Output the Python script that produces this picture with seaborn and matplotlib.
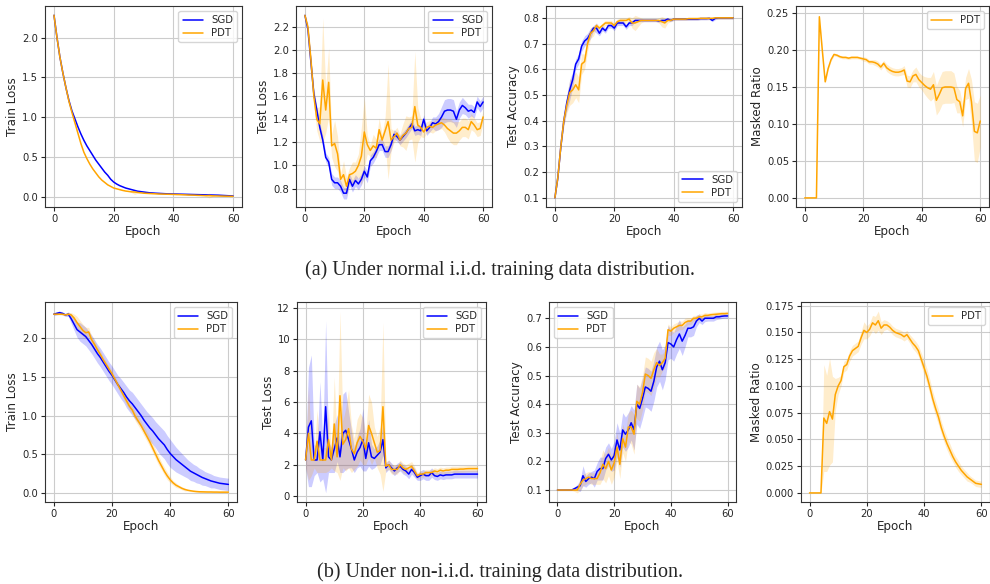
import numpy as np
import matplotlib
matplotlib.use("Agg")
import matplotlib.pyplot as plt
import seaborn as sns

epochs = list(range(61))

# ---------- (a) iid ----------
a_train_sgd = [2.28, 2.00, 1.75, 1.55, 1.37, 1.21, 1.08, 0.98, 0.88, 0.79, 0.71, 0.64, 0.58, 0.52, 0.46,
               0.41, 0.36, 0.31, 0.27, 0.22, 0.185, 0.16, 0.14, 0.125, 0.11, 0.10, 0.09, 0.08, 0.07, 0.065,
               0.06, 0.055, 0.05, 0.048, 0.045, 0.043, 0.041, 0.039, 0.037, 0.036, 0.035, 0.034, 0.033, 0.032,
               0.031, 0.03, 0.029, 0.028, 0.027, 0.026, 0.025, 0.024, 0.023, 0.022, 0.021, 0.02, 0.018, 0.016,
               0.014, 0.012, 0.01]
a_train_pdt = [2.28, 2.00, 1.75, 1.55, 1.37, 1.20, 1.06, 0.93, 0.80, 0.67, 0.56, 0.48, 0.41, 0.35, 0.30,
               0.25, 0.21, 0.18, 0.15, 0.13, 0.11, 0.10, 0.09, 0.08, 0.072, 0.067, 0.062, 0.06, 0.055, 0.05,
               0.045, 0.043, 0.041, 0.039, 0.037, 0.035, 0.034, 0.033, 0.032, 0.031, 0.03, 0.028, 0.027, 0.025,
               0.024, 0.022, 0.021, 0.02, 0.018, 0.017, 0.015, 0.014, 0.016, 0.012, 0.011, 0.01, 0.009, 0.008,
               0.007, 0.006, 0.005]
a_train_pdt_err = [0.0] * 26 + [0.01, 0.03, 0.01] + [0.0] * 22 + [0.01, 0.03, 0.01] + [0.0] * 7

a_test_sgd = [2.30, 2.18, 1.90, 1.62, 1.48, 1.33, 1.22, 1.07, 1.03, 0.88, 0.85, 0.85, 0.82, 0.76, 0.76,
              0.88, 0.82, 0.87, 0.84, 0.88, 0.95, 0.90, 1.04, 1.07, 1.12, 1.18, 1.18, 1.12, 1.12, 1.18,
              1.27, 1.25, 1.22, 1.25, 1.28, 1.32, 1.36, 1.30, 1.31, 1.30, 1.40, 1.30, 1.33, 1.37, 1.36,
              1.38, 1.42, 1.47, 1.48, 1.48, 1.47, 1.40, 1.48, 1.52, 1.50, 1.47, 1.48, 1.46, 1.55, 1.51, 1.55]
a_test_sgd_err = [0.01, 0.02, 0.03, 0.03, 0.03, 0.04, 0.04, 0.04, 0.04, 0.05, 0.05, 0.05, 0.05, 0.05, 0.05,
                  0.05, 0.05, 0.05, 0.05, 0.05, 0.05, 0.05, 0.05, 0.05, 0.05, 0.05, 0.05, 0.05, 0.05, 0.05,
                  0.04, 0.04, 0.04, 0.04, 0.04, 0.04, 0.04, 0.04, 0.04, 0.04, 0.04, 0.04, 0.04, 0.05, 0.06,
                  0.07, 0.09, 0.1, 0.1, 0.1, 0.1, 0.07, 0.07, 0.07, 0.06, 0.06, 0.05, 0.05, 0.05, 0.05, 0.05]
a_test_pdt = [2.30, 2.20, 1.92, 1.60, 1.40, 1.36, 1.74, 1.48, 1.72, 1.17, 1.19, 1.10, 0.88, 0.92, 0.82,
              0.92, 0.93, 0.95, 1.00, 1.08, 1.29, 1.18, 1.13, 1.17, 1.15, 1.31, 1.22, 1.30, 1.38, 1.22,
              1.25, 1.28, 1.22, 1.26, 1.28, 1.32, 1.33, 1.51, 1.35, 1.33, 1.29, 1.33, 1.34, 1.33, 1.35,
              1.36, 1.37, 1.35, 1.32, 1.30, 1.28, 1.28, 1.30, 1.33, 1.33, 1.31, 1.38, 1.35, 1.31, 1.32, 1.42]
a_test_pdt_err = [0.02, 0.03, 0.05, 0.08, 0.1, 0.15, 0.54, 0.2, 0.3, 0.1, 0.2, 0.15, 0.05, 0.12, 0.08,
                  0.06, 0.1, 0.08, 0.1, 0.25, 0.3, 0.08, 0.05, 0.1, 0.08, 0.1, 0.05, 0.12, 0.5, 0.1,
                  0.05, 0.05, 0.05, 0.1, 0.15, 0.1, 0.1, 0.48, 0.15, 0.08, 0.05, 0.05, 0.05, 0.05, 0.05,
                  0.05, 0.05, 0.06, 0.08, 0.1, 0.1, 0.1, 0.08, 0.08, 0.08, 0.08, 0.07, 0.06, 0.06, 0.06, 0.05]

a_acc_sgd = [0.10, 0.18, 0.30, 0.40, 0.47, 0.52, 0.56, 0.62, 0.64, 0.69, 0.71, 0.72, 0.74, 0.76, 0.76,
             0.74, 0.76, 0.75, 0.77, 0.77, 0.76, 0.78, 0.78, 0.78, 0.765, 0.78, 0.78, 0.79, 0.79, 0.79,
             0.79, 0.79, 0.79, 0.79, 0.79, 0.788, 0.79, 0.79, 0.795, 0.79, 0.795, 0.795, 0.795, 0.795, 0.795,
             0.795, 0.795, 0.795, 0.795, 0.797, 0.797, 0.797, 0.798, 0.79, 0.798, 0.8, 0.8, 0.8, 0.8, 0.8, 0.8]
a_acc_sgd_err = [0.0, 0.01, 0.01, 0.02, 0.03, 0.04, 0.03, 0.02, 0.02, 0.02, 0.02, 0.02, 0.02, 0.01, 0.02,
                 0.01, 0.01, 0.01, 0.01, 0.01, 0.01, 0.01, 0.01, 0.01, 0.01, 0.01, 0.01, 0.005, 0.005, 0.005,
                 0.005, 0.005, 0.005, 0.005, 0.005, 0.005, 0.005, 0.005, 0.005, 0.005, 0.005, 0.005, 0.005, 0.005, 0.005,
                 0.005, 0.005, 0.005, 0.005, 0.005, 0.005, 0.005, 0.005, 0.005, 0.005, 0.005, 0.005, 0.005, 0.005, 0.005, 0.005]
a_acc_pdt = [0.10, 0.18, 0.30, 0.40, 0.46, 0.51, 0.52, 0.54, 0.52, 0.62, 0.63, 0.70, 0.74, 0.75, 0.77,
             0.76, 0.77, 0.78, 0.78, 0.78, 0.77, 0.785, 0.79, 0.79, 0.79, 0.795, 0.78, 0.78, 0.785, 0.79,
             0.79, 0.79, 0.79, 0.79, 0.79, 0.79, 0.785, 0.78, 0.79, 0.79, 0.795, 0.795, 0.795, 0.795, 0.795,
             0.797, 0.797, 0.797, 0.797, 0.798, 0.798, 0.798, 0.798, 0.798, 0.8, 0.8, 0.8, 0.8, 0.8, 0.8, 0.8]
a_acc_pdt_err = [0.0, 0.01, 0.01, 0.02, 0.03, 0.05, 0.05, 0.05, 0.05, 0.04, 0.03, 0.03, 0.02, 0.02, 0.01,
                 0.01, 0.01, 0.01, 0.01, 0.01, 0.01, 0.01, 0.01, 0.01, 0.01, 0.01, 0.02, 0.03, 0.02, 0.01,
                 0.005, 0.005, 0.005, 0.005, 0.005, 0.01, 0.02, 0.02, 0.01, 0.005, 0.005, 0.005, 0.005, 0.005, 0.005,
                 0.005, 0.005, 0.005, 0.005, 0.005, 0.005, 0.005, 0.005, 0.005, 0.005, 0.005, 0.005, 0.005, 0.005, 0.005, 0.005]

a_mask_pdt = [0.0, 0.0, 0.0, 0.0, 0.0, 0.245, 0.20, 0.157, 0.175, 0.187, 0.194, 0.193, 0.191, 0.19, 0.19,
              0.189, 0.19, 0.19, 0.19, 0.189, 0.188, 0.187, 0.184, 0.184, 0.183, 0.181, 0.177, 0.182, 0.176, 0.173,
              0.171, 0.17, 0.17, 0.171, 0.173, 0.158, 0.157, 0.165, 0.167, 0.16, 0.156, 0.152, 0.149, 0.147, 0.153,
              0.132, 0.14, 0.149, 0.15, 0.15, 0.15, 0.149, 0.133, 0.13, 0.111, 0.148, 0.155, 0.13, 0.09, 0.088, 0.104]
a_mask_pdt_err = [0.0, 0.0, 0.0, 0.0, 0.0, 0.002, 0.002, 0.002, 0.002, 0.002, 0.002, 0.002, 0.002, 0.002, 0.002,
                  0.002, 0.002, 0.002, 0.002, 0.002, 0.003, 0.003, 0.003, 0.003, 0.004, 0.004, 0.004, 0.004, 0.005, 0.005,
                  0.005, 0.005, 0.005, 0.005, 0.006, 0.008, 0.008, 0.008, 0.01, 0.01, 0.01, 0.012, 0.014, 0.016, 0.018,
                  0.02, 0.022, 0.022, 0.022, 0.022, 0.022, 0.02, 0.018, 0.015, 0.015, 0.015, 0.02, 0.03, 0.04, 0.04, 0.035]

# ---------- (b) non-iid ----------
b_train_sgd = [2.31, 2.32, 2.33, 2.32, 2.30, 2.31, 2.25, 2.18, 2.11, 2.08, 2.05, 2.02, 1.97, 1.92, 1.86,
               1.80, 1.75, 1.69, 1.63, 1.57, 1.52, 1.46, 1.40, 1.35, 1.30, 1.24, 1.19, 1.15, 1.10, 1.05,
               1.00, 0.94, 0.89, 0.84, 0.80, 0.75, 0.70, 0.66, 0.62, 0.56, 0.51, 0.47, 0.43, 0.40, 0.37,
               0.34, 0.31, 0.28, 0.26, 0.24, 0.22, 0.20, 0.185, 0.17, 0.155, 0.145, 0.135, 0.125, 0.12, 0.115, 0.11]
b_train_sgd_err = [0.02, 0.02, 0.02, 0.02, 0.02, 0.03, 0.06, 0.08, 0.1, 0.12, 0.12, 0.12, 0.12, 0.12, 0.12,
                   0.12, 0.12, 0.12, 0.12, 0.12, 0.12, 0.12, 0.12, 0.13, 0.13, 0.14, 0.14, 0.15, 0.15, 0.15,
                   0.15, 0.16, 0.16, 0.17, 0.17, 0.17, 0.18, 0.18, 0.18, 0.18, 0.18, 0.17, 0.16, 0.15, 0.14,
                   0.13, 0.12, 0.12, 0.11, 0.11, 0.1, 0.1, 0.09, 0.09, 0.09, 0.08, 0.08, 0.08, 0.08, 0.08, 0.08]
b_train_pdt = [2.31, 2.31, 2.31, 2.31, 2.30, 2.31, 2.30, 2.26, 2.20, 2.15, 2.10, 2.07, 2.08, 1.98, 1.92,
               1.85, 1.79, 1.72, 1.66, 1.60, 1.54, 1.47, 1.40, 1.33, 1.26, 1.19, 1.12, 1.07, 0.99, 0.93,
               0.87, 0.80, 0.73, 0.66, 0.58, 0.50, 0.42, 0.35, 0.28, 0.22, 0.17, 0.13, 0.10, 0.08, 0.06,
               0.045, 0.035, 0.028, 0.022, 0.018, 0.015, 0.014, 0.013, 0.012, 0.012, 0.011, 0.011, 0.01, 0.01, 0.01, 0.01]
b_train_pdt_err = [0.01, 0.01, 0.01, 0.01, 0.01, 0.02, 0.03, 0.05, 0.08, 0.08, 0.08, 0.07, 0.06, 0.05, 0.05,
                   0.04, 0.04, 0.04, 0.04, 0.04, 0.04, 0.04, 0.04, 0.04, 0.05, 0.05, 0.05, 0.05, 0.06, 0.06,
                   0.06, 0.06, 0.06, 0.06, 0.06, 0.06, 0.06, 0.05, 0.05, 0.05, 0.04, 0.03, 0.03, 0.02, 0.02,
                   0.02, 0.01, 0.01, 0.01, 0.01, 0.01, 0.01, 0.01, 0.01, 0.01, 0.01, 0.01, 0.01, 0.01, 0.01, 0.01]

b_test_sgd = [2.3, 4.4, 4.8, 2.3, 2.3, 4.1, 2.3, 5.7, 2.5, 2.3, 3.0, 3.7, 2.5, 4.0, 4.2,
              3.6, 3.0, 2.3, 2.8, 3.1, 3.6, 2.4, 3.4, 2.5, 2.4, 2.6, 2.8, 3.6, 1.8, 2.0,
              1.8, 1.6, 1.8, 1.9, 1.7, 1.6, 1.4, 1.7, 1.5, 1.2, 1.3, 1.4, 1.3, 1.3, 1.5,
              1.3, 1.25, 1.35, 1.3, 1.35, 1.35, 1.35, 1.4, 1.4, 1.4, 1.4, 1.4, 1.4, 1.4, 1.4, 1.4]
b_test_sgd_err = [0.5, 3.8, 4.2, 1.0, 0.8, 3.2, 1.2, 5.5, 1.0, 0.8, 1.5, 1.5, 1.0, 2.5, 2.5,
                  1.8, 1.2, 0.8, 1.0, 1.2, 2.0, 0.8, 1.5, 0.8, 0.6, 0.6, 0.8, 1.0, 0.3, 0.3,
                  0.3, 0.3, 0.3, 0.3, 0.3, 0.3, 0.3, 0.3, 0.3, 0.2, 0.3, 0.3, 0.3, 0.3, 0.3,
                  0.25, 0.25, 0.25, 0.25, 0.25, 0.25, 0.25, 0.25, 0.25, 0.25, 0.25, 0.25, 0.25, 0.25, 0.25, 0.25]
b_test_pdt = [2.3, 4.0, 2.3, 2.3, 3.5, 2.3, 2.3, 2.3, 3.6, 2.3, 4.6, 2.5, 6.4, 3.3, 3.6,
              4.3, 3.0, 2.7, 3.4, 3.8, 3.5, 3.0, 4.5, 4.0, 3.4, 2.8, 2.9, 5.7, 1.9, 2.0,
              1.7, 1.7, 1.7, 2.0, 1.8, 1.7, 1.8, 1.9, 1.6, 1.3, 1.4, 1.4, 1.5, 1.5, 1.5,
              1.6, 1.55, 1.65, 1.6, 1.65, 1.65, 1.7, 1.7, 1.7, 1.72, 1.72, 1.74, 1.75, 1.75, 1.75, 1.75]
b_test_pdt_err = [0.5, 3.0, 1.0, 0.5, 2.0, 0.8, 0.8, 0.8, 2.0, 0.5, 3.0, 1.0, 5.4, 1.5, 2.0,
                  2.5, 1.5, 1.0, 1.5, 1.5, 1.5, 1.0, 2.0, 2.0, 1.0, 1.0, 1.5, 5.4, 0.3, 0.3,
                  0.3, 0.3, 0.3, 0.3, 0.3, 0.3, 0.3, 0.3, 0.3, 0.2, 0.2, 0.2, 0.2, 0.2, 0.2,
                  0.2, 0.2, 0.2, 0.2, 0.2, 0.2, 0.2, 0.2, 0.2, 0.2, 0.2, 0.2, 0.2, 0.2, 0.2, 0.2]

b_acc_sgd = [0.10, 0.10, 0.10, 0.10, 0.10, 0.10, 0.105, 0.11, 0.115, 0.15, 0.13, 0.14, 0.145, 0.14, 0.165,
             0.175, 0.175, 0.21, 0.225, 0.205, 0.22, 0.275, 0.24, 0.31, 0.295, 0.31, 0.335, 0.31, 0.40, 0.385,
             0.42, 0.46, 0.455, 0.445, 0.48, 0.53, 0.55, 0.52, 0.545, 0.615, 0.61, 0.60, 0.625, 0.645, 0.62,
             0.64, 0.665, 0.665, 0.67, 0.69, 0.70, 0.69, 0.70, 0.70, 0.70, 0.70, 0.705, 0.705, 0.707, 0.708, 0.708]
b_acc_sgd_err = [0.002, 0.002, 0.002, 0.002, 0.002, 0.002, 0.005, 0.01, 0.02, 0.035, 0.02, 0.02, 0.02, 0.03, 0.03,
                 0.04, 0.04, 0.04, 0.04, 0.04, 0.05, 0.06, 0.06, 0.06, 0.06, 0.06, 0.06, 0.07, 0.07, 0.07,
                 0.07, 0.07, 0.07, 0.07, 0.07, 0.07, 0.07, 0.07, 0.06, 0.06, 0.05, 0.05, 0.05, 0.05, 0.05,
                 0.04, 0.03, 0.03, 0.03, 0.02, 0.015, 0.012, 0.012, 0.01, 0.01, 0.01, 0.01, 0.008, 0.008, 0.008, 0.008]
b_acc_pdt = [0.10, 0.10, 0.10, 0.10, 0.10, 0.10, 0.10, 0.10, 0.12, 0.135, 0.14, 0.145, 0.14, 0.14, 0.14,
             0.16, 0.19, 0.175, 0.20, 0.17, 0.195, 0.25, 0.19, 0.28, 0.25, 0.32, 0.32, 0.295, 0.41, 0.40,
             0.44, 0.505, 0.50, 0.49, 0.52, 0.545, 0.535, 0.545, 0.56, 0.66, 0.655, 0.665, 0.67, 0.675, 0.675,
             0.685, 0.69, 0.69, 0.70, 0.70, 0.705, 0.705, 0.71, 0.71, 0.712, 0.713, 0.714, 0.715, 0.716, 0.716, 0.717]
b_acc_pdt_err = [0.002, 0.002, 0.002, 0.002, 0.002, 0.002, 0.005, 0.01, 0.02, 0.02, 0.02, 0.02, 0.02, 0.02, 0.02,
                 0.04, 0.05, 0.05, 0.05, 0.05, 0.05, 0.05, 0.05, 0.05, 0.05, 0.05, 0.06, 0.07, 0.06, 0.06,
                 0.06, 0.06, 0.06, 0.06, 0.06, 0.05, 0.04, 0.03, 0.03, 0.02, 0.015, 0.015, 0.015, 0.015, 0.015,
                 0.015, 0.012, 0.012, 0.01, 0.01, 0.01, 0.01, 0.01, 0.008, 0.008, 0.008, 0.008, 0.008, 0.008, 0.008, 0.008]

b_mask_pdt = [0.0, 0.0, 0.0, 0.0, 0.0, 0.070, 0.065, 0.076, 0.069, 0.092, 0.10, 0.105, 0.118, 0.12, 0.128,
              0.133, 0.135, 0.137, 0.145, 0.152, 0.15, 0.153, 0.159, 0.157, 0.161, 0.154, 0.157, 0.157, 0.155, 0.152,
              0.150, 0.149, 0.148, 0.146, 0.148, 0.144, 0.140, 0.137, 0.133, 0.125, 0.117, 0.109, 0.099, 0.088, 0.079,
              0.071, 0.061, 0.053, 0.046, 0.040, 0.034, 0.029, 0.025, 0.021, 0.018, 0.015, 0.013, 0.011, 0.009, 0.0085, 0.008]
b_mask_pdt_err = [0.0, 0.0, 0.0, 0.0, 0.0, 0.05, 0.045, 0.05, 0.04, 0.015, 0.008, 0.005, 0.005, 0.005, 0.005,
                  0.005, 0.005, 0.005, 0.006, 0.008, 0.006, 0.006, 0.007, 0.008, 0.009, 0.006, 0.005, 0.004, 0.004, 0.004,
                  0.004, 0.004, 0.004, 0.004, 0.004, 0.004, 0.005, 0.005, 0.005, 0.006, 0.007, 0.007, 0.007, 0.007, 0.007,
                  0.007, 0.006, 0.006, 0.006, 0.006, 0.005, 0.005, 0.005, 0.004, 0.004, 0.004, 0.003, 0.003, 0.003, 0.003, 0.003]

captions = ["(a) Under normal i.i.d. training data distribution.",
            "(b) Under non-i.i.d. training data distribution."]

sns.set_style("ticks", {"axes.grid": True, "grid.color": "#cccccc", "axes.edgecolor": "#333333"})
plt.rcParams['font.family'] = ['DejaVu Sans']

fig = plt.figure(figsize=(9.9, 5.84), dpi=100)

positions = [
    [0.0455, 0.6455, 0.199, 0.344], [0.299, 0.6455, 0.198, 0.344],
    [0.5515, 0.6455, 0.198, 0.344], [0.804, 0.6455, 0.195, 0.344],
    [0.0455, 0.1404, 0.194, 0.3425], [0.300, 0.1404, 0.191, 0.3425],
    [0.5545, 0.1404, 0.189, 0.3425], [0.809, 0.1404, 0.191, 0.3425],
]

panels = [
    ("Train Loss", [("SGD", a_train_sgd, None), ("PDT", a_train_pdt, a_train_pdt_err)], "upper right", None),
    ("Test Loss", [("SGD", a_test_sgd, a_test_sgd_err), ("PDT", a_test_pdt, a_test_pdt_err)], "upper right", (0.64, 2.38)),
    ("Test Accuracy", [("SGD", a_acc_sgd, a_acc_sgd_err), ("PDT", a_acc_pdt, a_acc_pdt_err)], "lower right", None),
    ("Masked Ratio", [("PDT", a_mask_pdt, a_mask_pdt_err)], "upper right", None),
    ("Train Loss", [("SGD", b_train_sgd, b_train_sgd_err), ("PDT", b_train_pdt, b_train_pdt_err)], "upper right", None),
    ("Test Loss", [("SGD", b_test_sgd, b_test_sgd_err), ("PDT", b_test_pdt, b_test_pdt_err)], "upper right", None),
    ("Test Accuracy", [("SGD", b_acc_sgd, b_acc_sgd_err), ("PDT", b_acc_pdt, b_acc_pdt_err)], "upper left", None),
    ("Masked Ratio", [("PDT", b_mask_pdt, b_mask_pdt_err)], "upper right", None),
]

colors = {"SGD": "blue", "PDT": "orange"}
x = np.array(epochs)

for pos, (ylabel, series, loc, ylim) in zip(positions, panels):
    ax = fig.add_axes(pos)
    for name, vals, err in series:
        v = np.array(vals)
        if err is not None:
            e = np.array(err)
            ax.fill_between(x, v - e, v + e, color=colors[name], alpha=0.2, lw=0)
        sns.lineplot(x=x, y=v, color=colors[name], label=name, ax=ax, lw=1.1)
    if ylim is not None:
        ax.set_ylim(*ylim)
    ax.set_xlabel("Epoch", fontsize=8.6, labelpad=1)
    ax.set_ylabel(ylabel, fontsize=8.6, labelpad=2)
    ax.set_xticks([0, 20, 40, 60])
    ax.tick_params(labelsize=7.2, length=3, width=0.8, pad=2)
    ax.grid(True, color="#cccccc", lw=0.8)
    for s in ax.spines.values():
        s.set_linewidth(0.8)
    ax.legend(loc=loc, fontsize=7.3, frameon=True, borderpad=0.4, labelspacing=0.3,
              handlelength=2.0, framealpha=0.8, edgecolor="#cccccc")

fig.text(0.505, 0.538, captions[0], ha="center", va="center", fontsize=14.5, family="Liberation Serif")
fig.text(0.505, 0.0205, captions[1], ha="center", va="center", fontsize=14.5, family="Liberation Serif")

fig.savefig("out.png", dpi=100)
